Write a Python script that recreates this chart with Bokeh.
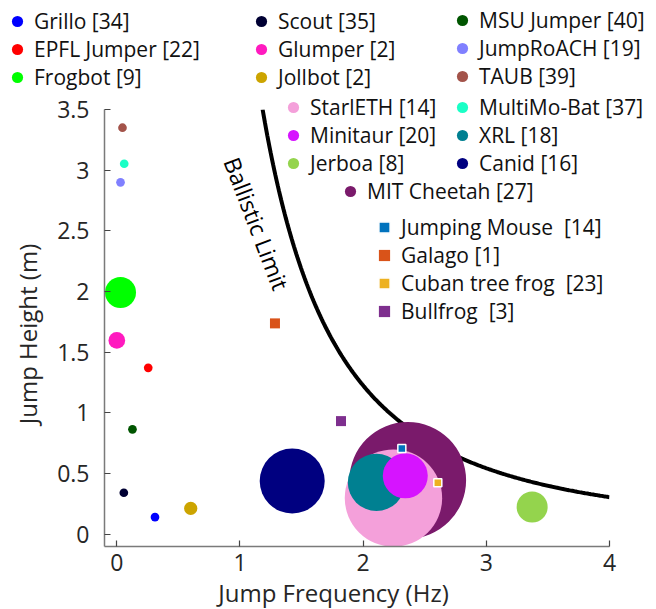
import numpy as np
from bokeh.plotting import figure
from bokeh.models import Legend, LegendItem, Label, Range1d, FixedTicker, GridBox, Column
from bokeh.embed import file_html
from bokeh.resources import INLINE

# ---------------- data ----------------
robot_names = ["Grillo [34]", "EPFL Jumper [22]", "Frogbot [9]",
               "Scout [35]", "Glumper [2]", "Jollbot [2]",
               "MSU Jumper [40]", "JumpRoACH [19]", "TAUB [39]",
               "MultiMo-Bat [37]", "Canid [16]", "MIT Cheetah [27]",
               "StarlETH [14]", "XRL [18]", "Minitaur [20]", "Jerboa [8]"]
robot_freq = [0.31, 0.255, 0.03, 0.057, 0.0, 0.60, 0.127, 0.03, 0.046,
              0.06, 1.424, 2.362, 2.246, 2.108, 2.342, 3.372]
robot_height = [0.142, 1.372, 1.993, 0.343, 1.598, 0.214, 0.865, 2.90, 3.35,
                3.053, 0.439, 0.445, 0.299, 0.428, 0.482, 0.225]
robot_bubble = [8.7, 8.7, 31, 8.7, 16.7, 13.3, 8.7, 8.7, 8.7,
                8.7, 65, 116.7, 97.4, 57.3, 45, 31]
robot_colors = ["#0000FF", "#FF0000", "#00FF00",
                "#000033", "#FF1ABF", "#CCA400",
                "#005500", "#8080FF", "#A3534A",
                "#1AFFC6", "#000080", "#7A1A6B",
                "#F4A0DA", "#008091", "#D614FF", "#94D44D"]

animal_names = ["Jumping Mouse  [14]", "Galago [1]", "Cuban tree frog  [23]", "Bullfrog  [3]"]
animal_freq = [2.314, 1.284, 2.606, 1.82]
animal_height = [0.708, 1.738, 0.425, 0.933]
animal_colors = ["#0072BD", "#D95319", "#EDB120", "#7E2F8E"]

x_ticks = [0, 1, 2, 3, 4]
x_tick_labels = ["0", "1", "2", "3", "4"]
y_ticks = [0, 0.5, 1, 1.5, 2, 2.5, 3, 3.5]
y_tick_labels = ["0", "0.5", "1", "1.5", "2", "2.5", "3", "3.5"]

g = 9.81  # ballistic limit: h = g / (2 f^2)

FONT = "Open Sans"
TXT = "#262626"
W, H = 656, 609
FRAME_L, FRAME_B = 104, 546

# ---------------- main plot (axes + data) ----------------
p = figure(width=W, height=H, x_range=Range1d(-0.1, 4), y_range=Range1d(-0.1, 3.5),
           output_backend="svg", toolbar_location=None,
           min_border_left=FRAME_L, min_border_right=47, min_border_top=109,
           min_border_bottom=H - FRAME_B)
p.outline_line_color = None
p.grid.visible = False
p.background_fill_color = "white"
p.border_fill_color = "white"

for ax in (p.xaxis[0], p.yaxis[0]):
    ax.axis_line_color = "#7a7a7a"
    ax.axis_line_width = 1.5
    ax.major_tick_line_color = "#444444"
    ax.major_tick_line_width = 1.2
    ax.major_tick_in = 6
    ax.major_tick_out = 0
    ax.minor_tick_line_color = None
    ax.major_label_text_font = FONT
    ax.major_label_text_font_size = "23px"
    ax.major_label_text_color = TXT

p.xaxis.ticker = FixedTicker(ticks=x_ticks)
p.xaxis.major_label_overrides = {t: l for t, l in zip(x_ticks, x_tick_labels)}
p.xaxis.major_label_standoff = 7
p.yaxis.ticker = FixedTicker(ticks=y_ticks)
p.yaxis.major_label_overrides = {t: l for t, l in zip(y_ticks, y_tick_labels)}
p.yaxis.major_label_standoff = 15

# ballistic limit curve
f_curve = np.linspace(np.sqrt(g / 2 / 3.5), 4, 300)
p.line(f_curve, g / (2 * f_curve ** 2), line_color="black", line_width=4)

for f, h, d, c in zip(robot_freq, robot_height, robot_bubble, robot_colors):
    p.scatter(x=[f], y=[h], size=d, marker="circle", fill_color=c, line_color=None)

animal_style = {"Jumping Mouse  [14]": ("white", 8), "Cuban tree frog  [23]": ("white", 8),
                "Galago [1]": (None, 10), "Bullfrog  [3]": (None, 10)}
for n, f, h, c in zip(animal_names, animal_freq, animal_height, animal_colors):
    lc, sz = animal_style[n]
    p.scatter(x=[f], y=[h], size=sz, marker="square", fill_color=c, line_color=lc, line_width=1.5)

p.add_layout(Label(x=1.135, y=2.56, text="Ballistic Limit", angle=-69, angle_units="deg",
                   text_align="center", text_baseline="middle", text_font=FONT,
                   text_font_size="23px", text_color="black"))

# ---------------- overlay (legends + axis titles, pixel space) ----------------
ov = figure(width=W, height=H, x_range=Range1d(0, W), y_range=Range1d(0, H),
            x_axis_type=None, y_axis_type=None, output_backend="svg",
            toolbar_location=None, min_border=0)
ov.outline_line_color = None
ov.background_fill_color = None
ov.border_fill_color = None

proxies = {}
for n, f, h, c in zip(robot_names, robot_freq, robot_height, robot_colors):
    r = ov.scatter(x=[f], y=[h], marker="circle", fill_color=c, line_color=None)
    r.visible = False
    proxies[n] = r
for n, f, h, c in zip(animal_names, animal_freq, animal_height, animal_colors):
    r = ov.scatter(x=[f], y=[h], marker="square", fill_color=c,
                   line_color=animal_style[n][0], line_width=1.5)
    r.visible = False
    proxies[n] = r


def add_legend(names, left, top):
    nrow = len(names)
    row_h = 28
    lg = Legend(items=[LegendItem(label=n, renderers=[proxies[n]]) for n in names],
                location=(left, H - top - nrow * row_h),
                glyph_width=28, glyph_height=row_h, label_height=row_h, spacing=0,
                label_standoff=3, padding=0, margin=0,
                border_line_color=None, background_fill_alpha=0,
                label_text_font=FONT, label_text_font_size="21px", label_text_color="#111111")
    ov.add_layout(lg, "center")


add_legend(["Grillo [34]", "EPFL Jumper [22]", "Frogbot [9]"], 3, 7)
add_legend(["Scout [35]", "Glumper [2]", "Jollbot [2]"], 247, 7)
add_legend(["MSU Jumper [40]", "JumpRoACH [19]", "TAUB [39]"], 448, 6)
add_legend(["StarlETH [14]", "Minitaur [20]", "Jerboa [8]"], 279, 93)
add_legend(["MultiMo-Bat [37]", "XRL [18]", "Canid [16]"], 448, 93)
add_legend(["MIT Cheetah [27]"], 336, 177)
add_legend(animal_names, 370, 213)

ov.add_layout(Label(x=333, y=H - 592, text="Jump Frequency (Hz)",
                    text_align="center", text_baseline="middle",
                    text_font=FONT, text_font_size="24px", text_color=TXT))
ov.add_layout(Label(x=27, y=H - 333.5, text="Jump Height (m)", angle=90, angle_units="deg",
                    text_align="center", text_baseline="middle",
                    text_font=FONT, text_font_size="24px", text_color=TXT))

layout = GridBox(children=[(p, 0, 0), (Column(children=[ov]), 0, 0)])

open("out.html", "w").write(file_html(layout, INLINE))
